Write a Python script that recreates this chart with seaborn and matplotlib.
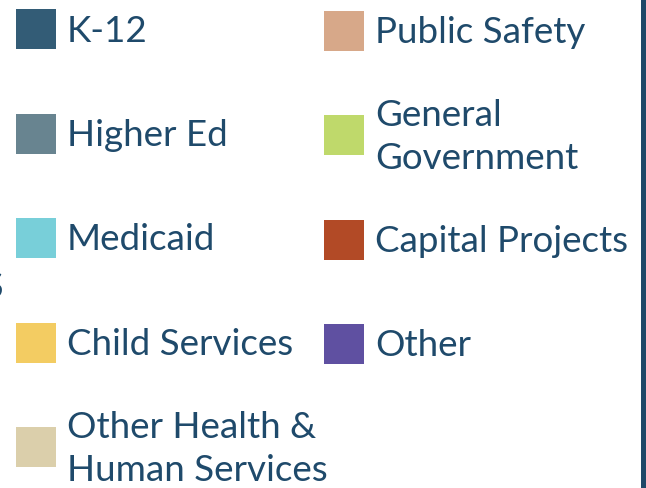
import numpy as np
import pandas as pd
import matplotlib
matplotlib.use("Agg")
import matplotlib.pyplot as plt
import seaborn as sns

# legend entries, in reading order (column by column)
categories = [
    "K-12",
    "Higher Ed",
    "Medicaid",
    "Child Services",
    "Other Health &\nHuman Services",
    "Public Safety",
    "General\nGovernment",
    "Capital Projects",
    "Other",
]
colors = [
    "#335c76",
    "#688490",
    "#78cfd9",
    "#f3cc62",
    "#dbcfab",
    "#d7a889",
    "#bfd96b",
    "#b24a26",
    "#5f50a1",
]
text_color = "#1f4a6b"
bar_color = "#1f4868"

W, H = 646, 489


def legend_frame(cats, rows_per_col=5):
    idx = np.arange(len(cats))
    col = idx // rows_per_col
    row = idx % rows_per_col
    return pd.DataFrame(
        {
            "category": cats,
            "x": 36 + col * 308,
            "y": 30 + row * 104.5 + col * 1.5,
        }
    )


sns.set_theme(style="white")
plt.rcParams["font.family"] = ["Lato", "DejaVu Sans"]

df = legend_frame(categories)

fig = plt.figure(figsize=(W / 100, H / 100), dpi=100)
ax = fig.add_axes([0, 0, 1, 1])
ax.set_xlim(0, W)
ax.set_ylim(H, 0)
ax.axis("off")

sns.scatterplot(
    data=df,
    x="x",
    y="y",
    hue="category",
    palette=dict(zip(categories, colors)),
    marker="s",
    s=40 * 0.72 * 40 * 0.72,
    linewidth=0,
    legend=False,
    ax=ax,
)

for _, r in df.iterrows():
    ax.text(r["x"] + 31, r["y"] + 1, r["category"], fontsize=26.5,
            color=text_color, va="center", ha="left", linespacing=1.35)

# clipped fragment of a neighbouring label at the left edge
ax.text(3, 287, "S", fontsize=26, color=text_color, va="center", ha="right")

# right frame edge
ax.axvspan(641, W, color=bar_color, lw=0)

fig.savefig("out.png", dpi=100, facecolor="white")
